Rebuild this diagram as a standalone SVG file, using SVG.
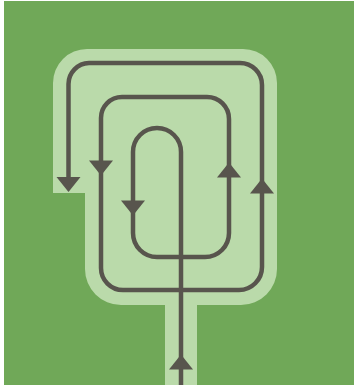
<svg xmlns="http://www.w3.org/2000/svg" width="354" height="385" viewBox="0 0 354 385">
  <style>
    .bg { fill: #70a858; }
    .pad { fill: #badaaa; }
    .line { fill: none; stroke: #58554d; stroke-width: 4.5; }
    .head { fill: #58554d; }
  </style>
  <defs>
    <path id="down" d="M-12,-7.5 H12 L0,7.5 Z"/>
    <path id="up" d="M-12,7.5 H12 L0,-7.5 Z"/>
  </defs>
  <rect width="354" height="385" fill="#ffffff"/>
  <rect class="bg" x="4" y="1" width="350" height="384"/>
  <g id="area">
    <path class="pad" d="M53,83 A34,34 0 0 1 87,49 H243 A34,34 0 0 1 277,83 V269 A36,36 0 0 1 241,305 H197 V385 H165 V305 H121 A36,36 0 0 1 85,269 V193 H53 Z"/>
  </g>
  <g id="connectors">
    <path class="line" d="M181,385 V152 A24,24 0 0 0 133,152 V233 A24,24 0 0 0 157,257 H205 A24,24 0 0 0 229,233 V119 A22,22 0 0 0 207,97 H122 A21,21 0 0 0 101,118 V268 A22,22 0 0 0 123,290 H239 A23,23 0 0 0 262,267 V85 A22,22 0 0 0 240,63 H89 A21,21 0 0 0 68.5,84 V180"/>
    <use href="#down" class="head" x="68.5" y="184.5"/>
    <use href="#down" class="head" x="101" y="168"/>
    <use href="#down" class="head" x="133" y="208"/>
    <use href="#up" class="head" x="229" y="170"/>
    <use href="#up" class="head" x="262" y="186"/>
    <use href="#up" class="head" x="181" y="362"/>
  </g>
</svg>
